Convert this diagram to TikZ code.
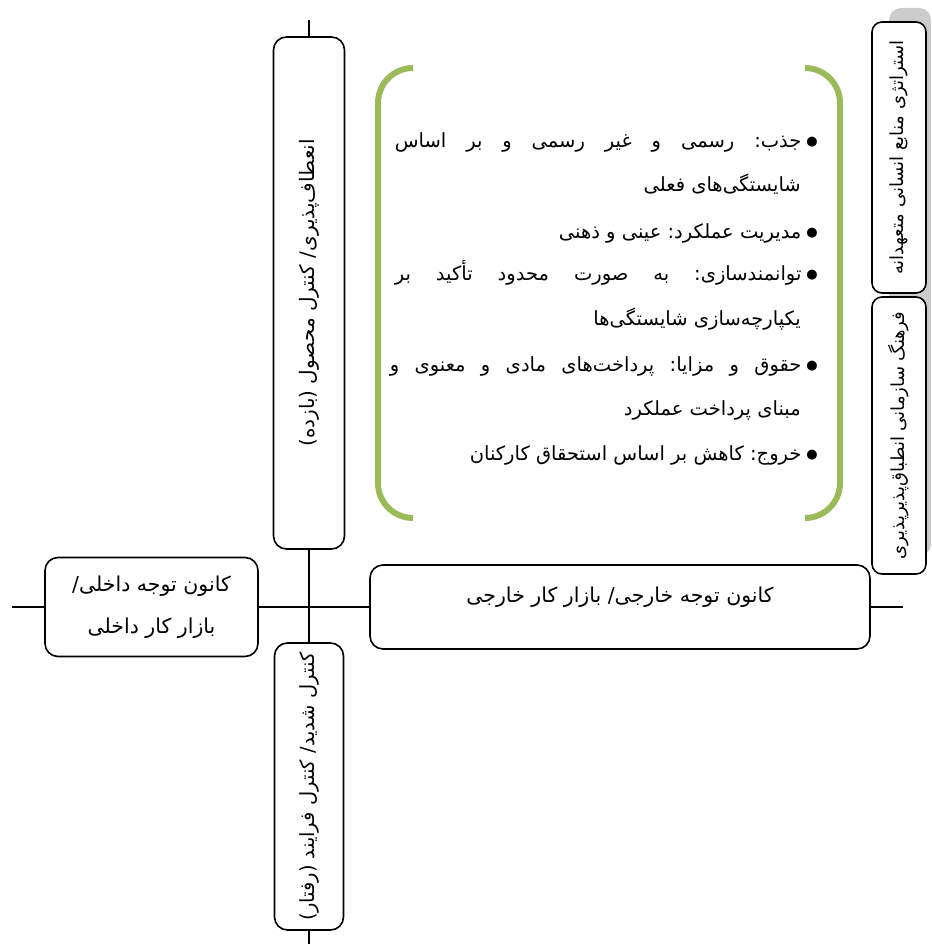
\documentclass[tikz,border=0pt]{standalone}
\usepackage{fontspec}
\TeXXeTstate=1
\newfontfamily\arabicfont[Script=Arabic]{DejaVu Sans}
\definecolor{brgreen}{HTML}{9BBB59}
\definecolor{bggray}{HTML}{CCCCCC}
\newcommand{\bulletmark}{\raisebox{2pt}{\fontsize{13}{13}\selectfont ●}\hspace{5pt}}
\begin{document}
\frenchspacing
\begin{tikzpicture}[x=1pt,y=-1pt,
  box/.style={draw, line width=1.6pt, rounded corners=13pt, fill=white, inner sep=0pt},
  conn/.style={line width=1.6pt},
  bl/.style={anchor=east, inner sep=0pt, text height=16pt, text depth=6pt,
    font=\arabicfont\fontsize{19.5}{24}\selectfont\frenchspacing},
  brace/.style={draw=brgreen, line width=6pt, rounded corners=35pt}
]
\useasboundingbox (0,0) rectangle (931,944);
% gray backdrop
\fill[bggray] (931,556) -- (889,556) [rounded corners=12pt]-- (889,8) -- (931,8) -- cycle;
% coordinates for free ends
\coordinate (hl) at (12,607);
\coordinate (hr) at (903,607);
\coordinate (vt) at (309,20);
\coordinate (vb) at (309,944);
% boxes
\node[box, minimum width=512pt, minimum height=71pt, rotate=90,
  font=\arabicfont\fontsize{20}{24}\selectfont] (top) at (309,293)
  {\beginR انعطاف‌پذیری/ کنترل محصول (بازده)\endR};
\node[box, minimum width=287pt, minimum height=69pt, rotate=90,
  font=\arabicfont\fontsize{19.5}{24}\selectfont] (bot) at (309,786.5)
  {\beginR کنترل شدید/ کنترل فرایند (رفتار)\endR};
\node[box, minimum width=213pt, minimum height=99pt, align=center,
  font=\arabicfont\fontsize{20.5}{42}\selectfont] (left) at (151.5,607)
  {\beginR کانون توجه داخلی/\endR\\\beginR بازار کار داخلی\endR};
\node[box, minimum width=500pt, minimum height=84pt, text height=12pt, text depth=22pt,
  font=\arabicfont\fontsize{20.5}{24}\selectfont] (right) at (620,607)
  {\beginR کانون توجه خارجی/ بازار کار خارجی\endR};
\node[box, rounded corners=10pt, minimum width=271pt, minimum height=54pt, rotate=90,
  font=\arabicfont\fontsize{18}{22}\selectfont] (r1) at (899,157.5)
  {\beginR استراتژی منابع انسانی متعهدانه\endR};
\node[box, rounded corners=10pt, minimum width=277pt, minimum height=54pt, rotate=90,
  font=\arabicfont\fontsize{18}{22}\selectfont] (r2) at (899,435.5)
  {\beginR فرهنگ سازمانی انطباق‌پذیرپذیری\endR};
% connectors
\draw[conn] (hl) -- (left.west);
\draw[conn] (left.east) -- (right.west);
\draw[conn] (right.east) -- (hr);
\draw[conn] (vt) -- (top.east);
\draw[conn] (top.west) -- (bot.east);
\draw[conn] (bot.west) -- (vb);
% green brackets
\draw[brace] (413,68) -| (378,518) -- (413,518);
\draw[brace] (805,68) -| (840,518) -- (805,518);
% bullet text
\node[bl] (b1) at (818,143) {\makebox[423pt][s]{\beginR\bulletmark جذب: رسمی و غیر رسمی و بر اساس\endR}};
\node[bl] (b1b) at (801,186) {\beginR شایستگی‌های فعلی\endR};
\node[bl] (b2) at (818,233) {\beginR\bulletmark مدیریت عملکرد: عینی و ذهنی\endR};
\node[bl] (b3) at (818,275) {\makebox[423pt][s]{\beginR\bulletmark توانمندسازی: به صورت محدود تأکید بر\endR}};
\node[bl] (b3b) at (801,320) {\beginR یکپارچه‌سازی شایستگی‌ها\endR};
\node[bl] (b4) at (818,366) {\makebox[428pt][s]{\beginR\bulletmark حقوق و مزایا: پرداخت‌های مادی و معنوی و\endR}};
\node[bl] (b4b) at (801,410) {\beginR مبنای پرداخت عملکرد\endR};
\node[bl] (b5) at (818,455) {\beginR\bulletmark خروج: کاهش بر اساس استحقاق کارکنان\endR};
\end{tikzpicture}
\end{document}
